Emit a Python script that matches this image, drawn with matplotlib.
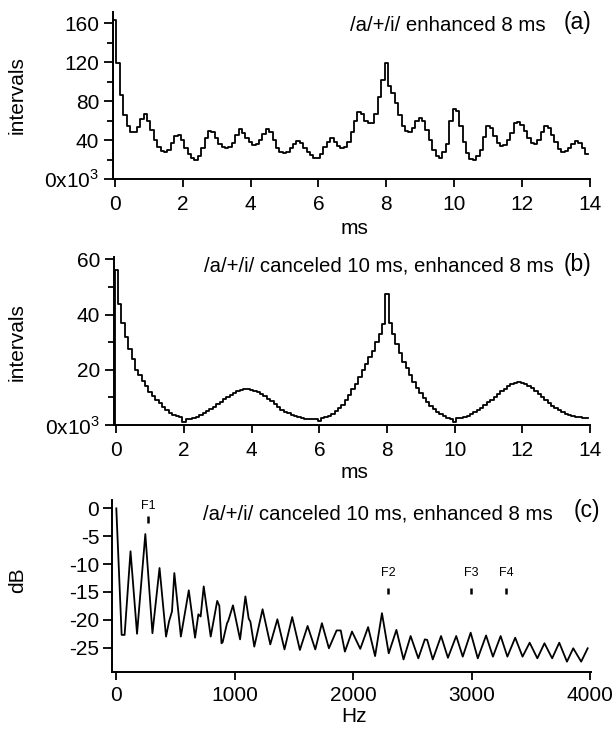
import numpy as np
import matplotlib
matplotlib.use('Agg')
import matplotlib.pyplot as plt
from matplotlib.ticker import FixedLocator

plt.rcParams['font.family'] = ['Liberation Sans', 'DejaVu Sans']
plt.rcParams['mathtext.fontset'] = 'custom'
plt.rcParams['mathtext.rm'] = 'Liberation Sans'
plt.rcParams['axes.unicode_minus'] = False

W, H = 614, 729

# interval histograms, 0.1 ms bins centred on 0.0 ... 13.9 ms (counts x 10^3)
bin_width = 0.1
counts_a = [
    163, 119, 86, 66, 54, 48, 48, 53, 62, 67,
    60, 50, 40, 33, 29, 28, 30, 37, 44, 45,
    40, 32, 26, 22, 20, 24, 32, 42, 49, 48,
    42, 36, 33, 32, 33, 37, 45, 51, 47, 42,
    38, 35, 36, 40, 46, 51, 48, 40, 32, 28,
    27, 28, 32, 36, 39, 37, 32, 28, 25, 22,
    22, 26, 33, 38, 42, 38, 34, 32, 33, 38,
    48, 60, 69, 67, 60, 58, 58, 67, 84, 102,
    119, 96, 88, 78, 66, 55, 49, 48, 52, 60,
    63, 60, 50, 40, 30, 24, 22, 28, 36, 60,
    72, 70, 55, 38, 27, 21, 20, 24, 30, 43,
    55, 52, 44, 37, 34, 35, 40, 47, 58, 59,
    56, 49, 42, 37, 36, 40, 48, 55, 52, 45,
    38, 31, 28, 29, 32, 36, 39, 37, 32, 26,
]
counts_b = [
    56, 44, 37, 32, 27.5, 24, 20, 18, 16, 14,
    12, 10.5, 9, 7.8, 6.5, 5.5, 4.5, 3.8, 3.2, 2.8,
    1.2, 2.0, 2.1, 2.4, 3.0, 3.6, 4.3, 5.0, 5.8, 6.6,
    7.5, 8.4, 9.3, 10.1, 10.9, 11.6, 12.2, 12.7, 13.0, 13.0,
    12.8, 12.4, 12.0, 11.4, 10.6, 9.6, 8.6, 7.5, 6.5, 5.6,
    4.8, 4.2, 3.7, 3.2, 2.8, 2.5, 2.3, 2.2, 2.2, 2.1,
    1.6, 2.4, 3.0, 3.4, 4.0, 5.0, 6.0, 7.3, 9.0, 11.0,
    13.0, 15.0, 17.3, 19.8, 22.0, 24.5, 27.0, 30.0, 33.0, 36.5,
    47.5, 37.0, 33.0, 29.5, 26.0, 23.0, 20.5, 18.0, 15.5, 13.5,
    11.5, 9.8, 8.2, 7.0, 5.8, 4.8, 3.9, 3.2, 2.7, 2.3,
    1.2, 2.6, 2.7, 2.9, 3.3, 3.9, 4.6, 5.4, 6.3, 7.2,
    8.2, 9.2, 10.2, 11.2, 12.2, 13.1, 14.0, 14.8, 15.4, 15.7,
    15.4, 14.9, 14.2, 13.3, 12.3, 11.2, 10.1, 9.0, 8.0, 7.0,
    6.1, 5.3, 4.6, 4.0, 3.6, 3.3, 3.0, 2.8, 2.7, 2.6,
]

# spectrum (c): frequency (Hz) and level (dB)
hz_c = [0, 45, 70, 120, 175, 245, 305, 365, 420, 445, 470, 490, 545, 612,
        665, 693, 712, 738, 797, 852, 870, 888, 898, 935, 945, 985, 1045,
        1090, 1118, 1132, 1165, 1235, 1300, 1360, 1420, 1485, 1550, 1615,
        1680, 1736, 1795, 1860, 1895, 1930, 1990, 2060, 2126, 2185, 2243,
        2300, 2365, 2425, 2485, 2550, 2605, 2625, 2672, 2742, 2800, 2870,
        2925, 2992, 3052, 3122, 3180, 3245, 3302, 3368, 3430, 3490, 3555,
        3615, 3680, 3740, 3805, 3858, 3925, 3980]
db_c = [0, -22.7, -22.7, -7.7, -22.5, -4.6, -22.4, -10.7, -23.0, -20.3,
        -18.5, -11.6, -23.0, -14.7, -23.2, -19.0, -19.4, -14.0, -23.0, -16.6,
        -17.5, -24.2, -24.0, -20.6, -20.2, -17.4, -23.5, -15.8, -19.8, -20.3,
        -24.8, -18.1, -24.4, -19.9, -25.3, -19.5, -25.4, -21.1, -25.3, -20.6,
        -25.1, -21.9, -21.9, -25.7, -22.1, -25.2, -21.3, -26.5, -18.8, -26.0,
        -21.8, -27.1, -22.9, -26.9, -23.5, -23.6, -27.1, -22.9, -26.8, -22.9,
        -26.6, -22.3, -26.9, -22.8, -26.6, -22.9, -26.6, -23.2, -26.6, -24.1,
        -26.9, -24.2, -26.9, -24.1, -27.5, -25.1, -27.5, -25.1]

formant_names = ['F1', 'F2', 'F3', 'F4']
formant_hz = [270, 2295, 2995, 3290]

ms_ticks = [0, 2, 4, 6, 8, 10, 12, 14]
hz_ticks = [0, 1000, 2000, 3000, 4000]
yticks_a = [0, 40, 80, 120, 160]
ylabels_a = ['0x10$^3$', '40', '80', '120', '160']
yticks_b = [0, 20, 40, 60]
ylabels_b = ['0x10$^3$', '20', '40', '60']
yticks_c = [0, -5, -10, -15, -20, -25]
ylabels_c = ['0', '-5', '-10', '-15', '-20', '-25']

titles = ['/a/+/i/ enhanced 8 ms',
          '/a/+/i/ canceled 10 ms, enhanced 8 ms',
          '/a/+/i/ canceled 10 ms, enhanced 8 ms']
tags = ['(a)', '(b)', '(c)']


def box(left, top, right, bottom):
    return [left / W, 1 - bottom / H, (right - left) / W, (bottom - top) / H]


def fx(x):
    return x / W


def fy(y):
    return 1 - y / H


fig = plt.figure(figsize=(W / 100, H / 100), dpi=100)
ax_a = fig.add_axes(box(112.5, 11.7, 590, 179))
ax_b = fig.add_axes(box(113.5, 256.7, 590, 425))
ax_c = fig.add_axes(box(112.4, 500, 591, 671.7))


def style(ax, xpad=6):
    for s in ['top', 'right']:
        ax.spines[s].set_visible(False)
    for s in ['left', 'bottom']:
        ax.spines[s].set_linewidth(1.4)
    ax.tick_params(axis='both', which='both', direction='out', width=1.3,
                   labelsize=15, colors='black')
    ax.tick_params(axis='y', which='major', length=6.5, pad=3)
    ax.tick_params(axis='y', which='minor', length=4)
    ax.tick_params(axis='x', which='major', length=5.5, pad=xpad)


def draw_hist(ax, counts):
    edges = (np.arange(len(counts) + 1) - 0.5) * bin_width
    xs = np.concatenate([[edges[0]], edges])
    ys = np.concatenate([[0], counts, [counts[-1]]])
    ax.step(xs, ys, where='post', color='black', lw=1.3)


# (a)
draw_hist(ax_a, counts_a)
ax_a.set_xlim(-0.065, 14)
ax_a.set_ylim(0, 172)
ax_a.set_xticks(ms_ticks)
ax_a.set_yticks(yticks_a)
ax_a.set_yticklabels(ylabels_a)
ax_a.yaxis.set_minor_locator(FixedLocator([20, 60, 100, 140]))
style(ax_a)

# (b)
draw_hist(ax_b, counts_b)
ax_b.set_xlim(-0.083, 14)
ax_b.set_ylim(0, 61)
ax_b.set_xticks(ms_ticks)
ax_b.set_yticks(yticks_b)
ax_b.set_yticklabels(ylabels_b)
ax_b.yaxis.set_minor_locator(FixedLocator([10, 30, 50]))
style(ax_b)

# (c)
ax_c.plot(hz_c, db_c, color='black', lw=1.3, solid_joinstyle='round')
ax_c.set_xlim(-33, 4008)
ax_c.set_ylim(-29.3, 1.5)
ax_c.set_xticks(hz_ticks)
ax_c.set_yticks(yticks_c)
ax_c.set_yticklabels(ylabels_c)
style(ax_c, xpad=5)

ax_c.vlines(formant_hz[:1], -2.6, -1.4, color='black', lw=1.8)
ax_c.vlines(formant_hz[1:], -15.4, -14.2, color='black', lw=1.8)
for i, (name, f) in enumerate(zip(formant_names, formant_hz)):
    ax_c.text(f, 0.45 if i == 0 else -11.6, name, fontsize=9,
              ha='center', va='center')

# titles / panel tags
fig.text(fx(349.6), fy(31), titles[0], fontsize=14.7, ha='left', va='baseline')
fig.text(fx(563.8), fy(29), tags[0], fontsize=16.5, ha='left', va='baseline')
fig.text(fx(203.6), fy(272), titles[1], fontsize=14.7, ha='left', va='baseline')
fig.text(fx(563.8), fy(270.5), tags[1], fontsize=16.5, ha='left', va='baseline')
fig.text(fx(202.8), fy(519), titles[2], fontsize=14.7, ha='left', va='baseline')
fig.text(fx(573.6), fy(517), tags[2], fontsize=16.5, ha='left', va='baseline')

# axis labels
fig.text(fx(17.6), fy(95), 'intervals', fontsize=15, rotation=90,
         ha='center', va='center')
fig.text(fx(17.6), fy(342.5), 'intervals', fontsize=15, rotation=90,
         ha='center', va='center')
fig.text(fx(17.6), fy(580), 'dB', fontsize=15, rotation=90,
         ha='center', va='center')
fig.text(fx(354.3), fy(228), 'ms', fontsize=15, ha='center', va='center')
fig.text(fx(354.3), fy(473), 'ms', fontsize=15, ha='center', va='center')
fig.text(fx(354.3), fy(717), 'Hz', fontsize=15, ha='center', va='center')

fig.savefig('out.png', dpi=100)
